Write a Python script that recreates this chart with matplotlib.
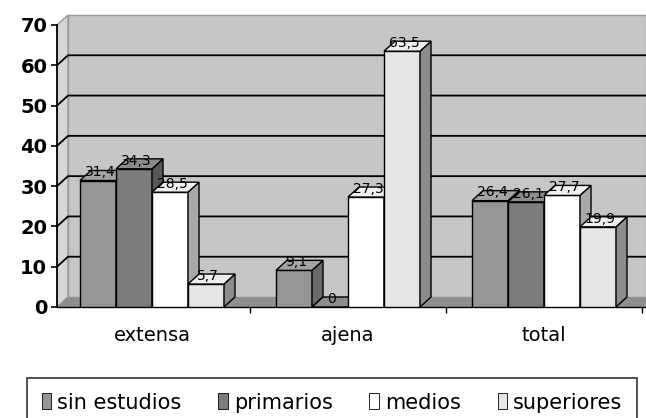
import numpy as np
import matplotlib
matplotlib.use('Agg')
import matplotlib.pyplot as plt
from matplotlib.patches import Polygon, Patch

# data
categories = ['extensa', 'ajena', 'total']
series = ['sin estudios', 'primarios', 'medios', 'superiores']
sin_estudios = [31.4, 9.1, 26.4]
primarios = [34.3, 0.0, 26.1]
medios = [28.5, 27.3, 27.7]
superiores = [5.7, 63.5, 19.9]
values = [sin_estudios, primarios, medios, superiores]

front_colors = ['#969696', '#7c7c7c', '#ffffff', '#e6e6e6']
side_colors = ['#6a6a6a', '#585858', '#a8a8a8', '#8c8c8c']
top_colors = ['#a4a4a4', '#8c8c8c', '#f0f0f0', '#eeeeee']

plt.rcParams['font.family'] = ['DejaVu Sans']

W, H = 646, 418
fig = plt.figure(figsize=(W / 100, H / 100), dpi=100)
fig.patch.set_facecolor('white')

# axes: left edge = front y axis, bottom = front floor edge
ax_left, ax_bottom, ax_top = 57, 307, 0
ax = fig.add_axes([ax_left / W, (H - ax_bottom) / H, (W - ax_left) / W, (ax_bottom - ax_top) / H])
px_y = 282 / 70.          # pixels per unit value
px_x = 196.               # pixels per category
xc0 = 152                 # pixel of first group centre
xmin = (ax_left - xc0) / px_x
xmax = (W - xc0) / px_x
ax.set_xlim(xmin, xmax)
ax.set_ylim(0, (ax_bottom - ax_top) / px_y)
ax.patch.set_visible(False)

ddx = 11 / px_x           # depth offset in data units
ddy = 10 / px_y
ymax = 70

# walls and floor
back = Polygon([(xmin + ddx, ddy), (xmax, ddy), (xmax, ymax + ddy), (xmin + ddx, ymax + ddy)],
               closed=True, facecolor='#c6c6c6', edgecolor='#9a9a9a', lw=1, zorder=0)
left = Polygon([(xmin, 0), (xmin + ddx, ddy), (xmin + ddx, ymax + ddy), (xmin, ymax)],
               closed=True, facecolor='#d6d6d6', edgecolor='#9a9a9a', lw=1, zorder=0)
floor = Polygon([(xmin, 0), (xmax + 1, 0), (xmax + 1, ddy), (xmin + ddx, ddy)],
                closed=True, facecolor='#8f8f8f', edgecolor='none', zorder=0.5)
for p in (back, left, floor):
    ax.add_patch(p)
for v in range(10, ymax, 10):
    ax.plot([xmin, xmin + ddx, xmax], [v, v + ddy, v + ddy], color='black', lw=1.3, zorder=1,
            solid_capstyle='butt')

# bars
n = len(series)
w = 36 / px_x
x = np.arange(len(categories))
for i in range(n):
    xs = x + (i - (n - 1) / 2) * w
    z = 3 + i
    ax.bar(xs, values[i], width=w, color=front_colors[i], edgecolor='black', lw=1.0, zorder=z)
    for xi, v in zip(xs, values[i]):
        r = xi + w / 2
        l = xi - w / 2
        ax.add_patch(Polygon([(r, 0), (r + ddx, ddy), (r + ddx, v + ddy), (r, v)], closed=True,
                             facecolor=side_colors[i], edgecolor='black', lw=1.0, zorder=z))
        ax.add_patch(Polygon([(l, v), (l + ddx, v + ddy), (r + ddx, v + ddy), (r, v)], closed=True,
                             facecolor=top_colors[i], edgecolor='black', lw=1.0, zorder=z))
        ax.text(xi + 0.01, v + 0.3, ('%.1f' % v).replace('.', ',') if v else '0',
                ha='center', va='bottom', fontsize=10, color='black', zorder=20)

# axes styling
for s in ['top', 'right']:
    ax.spines[s].set_visible(False)
ax.spines['left'].set_bounds(0, ymax)
ax.spines['left'].set_linewidth(1.3)
ax.spines['bottom'].set_linewidth(1.0)
ax.spines['bottom'].set_zorder(2)
ax.set_yticks(range(0, ymax + 1, 10))
ax.tick_params(axis='y', direction='out', length=4, width=1.2, pad=3, labelsize=14)
for t in ax.get_yticklabels():
    t.set_fontweight('bold')
ax.set_xticks(x)
ax.set_xticklabels(categories, fontsize=14)
ax.tick_params(axis='x', length=0, pad=14)
ax.set_xticks(x + 0.5, minor=True)
ax.tick_params(axis='x', which='minor', direction='out', length=4, width=1)

# legend, bottom edge runs off the picture
handles = [Patch(facecolor=front_colors[i], edgecolor='black', lw=0.6) for i in range(n)]
leg = fig.legend(handles, series, loc='upper left', ncol=4, mode='expand',
                 bbox_to_anchor=(27 / W, 0, 610 / W, (H - 378) / H),
                 fontsize=15, handlelength=0.45, handleheight=0.8, handletextpad=0.3,
                 columnspacing=0.8, borderpad=0.7, borderaxespad=0, fancybox=False,
                 frameon=True)
leg.get_frame().set_edgecolor('black')
leg.get_frame().set_linewidth(1.2)

fig.savefig('out.png', dpi=100)
